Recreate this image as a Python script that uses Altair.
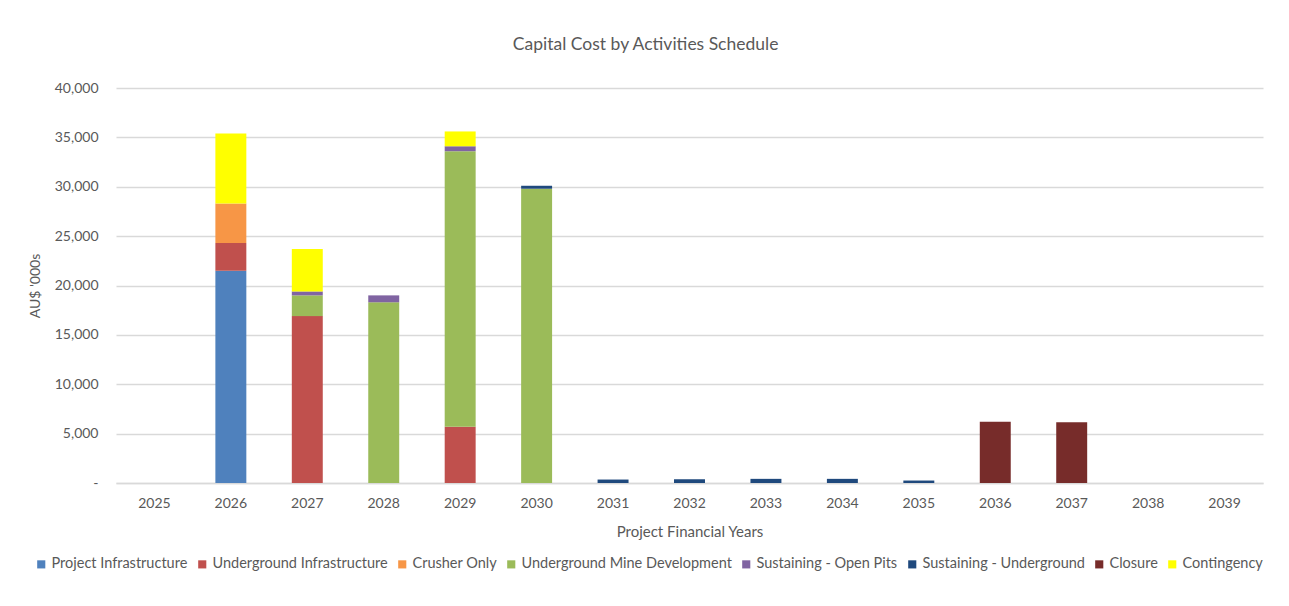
import altair as alt
import pandas as pd

years = [str(y) for y in range(2025, 2040)]
series = ["Project Infrastructure", "Underground Infrastructure", "Crusher Only",
          "Underground Mine Development", "Sustaining - Open Pits",
          "Sustaining - Underground", "Closure", "Contingency"]
colors = ["#4F81BD", "#C0504D", "#F79646", "#9BBB59", "#8064A2", "#1F497D", "#772C2A", "#FFFF00"]

project_infra = [0, 21500, 0, 0, 0, 0, 0, 0, 0, 0, 0, 0, 0, 0, 0]
ug_infra      = [0, 2800, 16900, 0, 5700, 0, 0, 0, 0, 0, 0, 0, 0, 0, 0]
crusher       = [0, 4000, 0, 0, 0, 0, 0, 0, 0, 0, 0, 0, 0, 0, 0]
ug_mine_dev   = [0, 0, 2100, 18300, 27900, 29800, 0, 0, 0, 0, 0, 0, 0, 0, 0]
sust_op       = [0, 0, 400, 700, 500, 0, 0, 0, 0, 0, 0, 0, 0, 0, 0]
sust_ug       = [0, 0, 0, 0, 0, 300, 350, 380, 420, 420, 250, 0, 0, 0, 0]
closure       = [0, 0, 0, 0, 0, 0, 0, 0, 0, 0, 0, 6200, 6150, 0, 0]
contingency   = [0, 7100, 4300, 0, 1500, 0, 0, 0, 0, 0, 0, 0, 0, 0, 0]

values = [project_infra, ug_infra, crusher, ug_mine_dev, sust_op, sust_ug, closure, contingency]
rows = []
for i, (name, vals) in enumerate(zip(series, values)):
    for y, v in zip(years, vals):
        if v > 0:
            rows.append({"Year": y, "Series": name, "Value": v, "order": i})
df = pd.DataFrame(rows)

FONT = "Lato"
TXT = "#595959"

chart = alt.Chart(df).mark_bar().encode(
    x=alt.X("Year:N", scale=alt.Scale(domain=years, paddingInner=0.595, paddingOuter=0.3),
            axis=alt.Axis(title="Project Financial Years", labelAngle=0, ticks=False,
                          domain=True, domainColor="#d9d9d9", domainWidth=1.5,
                          labelPadding=13, titlePadding=14, titleFontSize=15)),
    y=alt.Y("sum(Value):Q", scale=alt.Scale(domain=[0, 40000], nice=False),
            axis=alt.Axis(title="AU$ '000s", values=list(range(0, 40001, 5000)),
                          labelExpr="datum.value == 0 ? '-' : format(datum.value, ',')",
                          ticks=False, domain=False, gridColor="#d9d9d9", gridWidth=1.5,
                          labelPadding=18, titlePadding=12)),
    color=alt.Color("Series:N", scale=alt.Scale(domain=series, range=colors),
                    legend=alt.Legend(title=None, orient="none", legendX=-82, legendY=469,
                                      direction="horizontal",
                                      columns=8, symbolType="square", symbolSize=66,
                                      symbolStrokeWidth=0, labelFontSize=14.5, labelLimit=0,
                                      columnPadding=7, labelOffset=3)),
    order=alt.Order("order:Q", sort="ascending"),
).properties(
    width=1147, height=395,
    title=alt.TitleParams("Capital Cost by Activities Schedule", fontSize=17.5,
                          font=FONT, color=TXT, fontWeight="normal", offset=28,
                          frame="bounds", anchor="middle"),
    padding={"left": 20, "top": 27, "right": 3, "bottom": 8},
).configure_axis(
    labelFont=FONT, titleFont=FONT, labelFontSize=14, titleFontSize=14,
    labelColor=TXT, titleColor=TXT, titleFontWeight="normal",
).configure_legend(
    labelFont=FONT, labelColor=TXT,
).configure_view(stroke=None)

chart.save("out.html", embed_options={"renderer": "svg", "actions": False})
